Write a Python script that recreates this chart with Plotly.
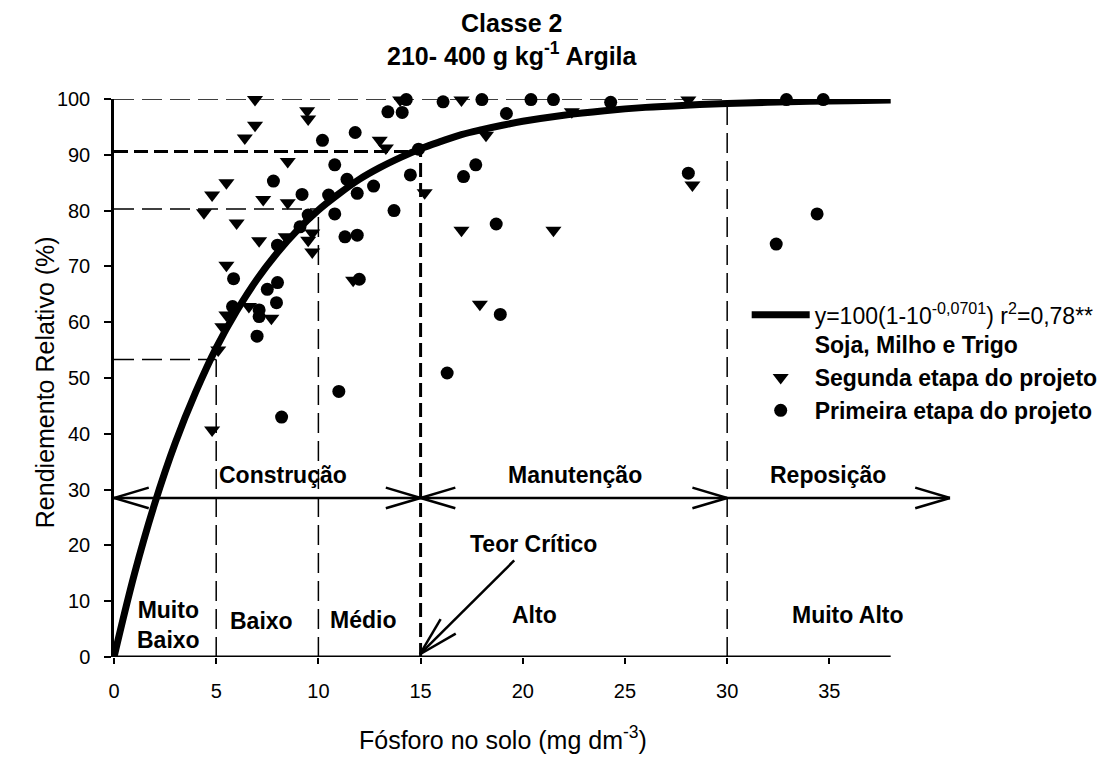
import plotly.graph_objects as go

# ---------------- data ----------------
seg_x = [6.9, 6.9, 6.4, 9.45, 9.5, 13.0, 13.3, 8.5, 5.5, 4.8, 7.3, 8.5, 4.4, 6.0, 7.1, 8.4, 9.7, 9.5,
         9.7, 5.5, 6.6, 7.7, 5.5, 5.3, 5.1, 4.8, 11.7, 14.0, 15.2, 17.0, 17.0, 18.2, 17.9, 21.5, 22.4,
         28.1, 28.3]
seg_y = [99.9, 95.3, 93.0, 97.9, 96.4, 92.6, 91.2, 88.8, 85.0, 82.8, 82.0, 81.4, 79.6, 77.8, 74.6, 75.3,
         76.0, 74.7, 72.6, 70.2, 62.8, 60.7, 61.3, 59.2, 55.0, 40.7, 67.5, 99.8, 83.2, 99.8, 76.5, 93.5,
         63.2, 76.5, 97.7, 99.8, 84.6]

prim_x = [14.3, 13.4, 14.1, 10.2, 11.8, 10.8, 7.8, 11.4, 9.2, 10.5, 11.9, 12.7, 14.5, 14.9, 9.5, 10.8,
          13.7, 9.1, 8.0, 11.3, 11.9, 12.0, 5.85, 8.0, 7.5, 7.95, 5.8, 7.1, 7.1, 7.0, 8.2, 11.0, 16.3,
          17.1, 17.7, 16.1, 18.0, 20.4, 21.5, 24.3, 19.2, 18.7, 18.9, 28.1, 32.9, 34.7, 34.4, 32.4]
prim_y = [99.9, 97.7, 97.6, 92.6, 94.0, 88.2, 85.3, 85.6, 82.9, 82.8, 83.1, 84.4, 86.4, 91.0, 79.2, 79.4,
          80.0, 77.1, 73.8, 75.3, 75.6, 67.7, 67.8, 67.1, 65.9, 63.5, 62.8, 62.2, 61.0, 57.5, 43.0, 47.6,
          50.9, 86.1, 88.2, 99.5, 99.9, 99.9, 99.9, 99.4, 97.4, 77.6, 61.4, 86.7, 99.9, 99.9, 79.4, 74.0]

fit_x = [0, 1, 2, 3, 4, 5, 6, 7, 8, 9, 10, 11, 12, 13, 14, 15, 16, 17, 18, 19, 20, 22, 24, 26, 28, 30,
         33, 36, 38]
fit_y = [0, 14.9, 27.6, 38.4, 47.5, 55.4, 62.0, 67.7, 72.5, 76.6, 80.1, 83.0, 85.6, 87.7, 89.5, 91.1,
         92.4, 93.6, 94.5, 95.3, 96.0, 97.1, 97.9, 98.5, 98.9, 99.2, 99.5, 99.7, 99.8]

class_limits = [5, 10, 15, 30]          # P limits between classes
class_levels = [53.3, 80.3, 90.6, 100]  # relative yield at those limits
x_ticks = [0, 5, 10, 15, 20, 25, 30, 35]
y_ticks = [0, 10, 20, 30, 40, 50, 60, 70, 80, 90, 100]
x_axis_end = 38
arrow_level = 28.5
arrow_end = 40.9

FONT = "Liberation Sans, Arial, sans-serif"

fig = go.Figure()

fig.add_trace(go.Scatter(
    x=fit_x, y=fit_y, mode="lines", line=dict(color="black", width=7, shape="spline"),
    name="y=100(1-10<sup>-0,0701</sup>) r<sup>2</sup>=0,78**<br><b>Soja, Milho e Trigo</b>",
    cliponaxis=False))
fig.add_trace(go.Scatter(
    x=seg_x, y=seg_y, mode="markers",
    marker=dict(symbol="triangle-down", size=14, color="black"),
    name="<b>Segunda etapa do projeto</b>", cliponaxis=False))
fig.add_trace(go.Scatter(
    x=prim_x, y=prim_y, mode="markers",
    marker=dict(symbol="circle", size=13, color="black"),
    name="<b>Primeira etapa do projeto</b>", cliponaxis=False))

shapes = []


def seg(x0, y0, x1, y1, width=2.5, dash="solid"):
    shapes.append(dict(type="line", xref="x", yref="y", x0=x0, y0=y0, x1=x1, y1=y1,
                       line=dict(color="black", width=width, dash=dash), layer="below"))


thin = "20px,8px"
thick = "14px,6px"
# class reference lines
for lim, lev in zip(class_limits, class_levels):
    crit = lim == 15
    w = 3 if crit else 1.5
    d = thick if crit else thin
    seg(lim, 0, lim, lev, w, d)
    seg(0, lev, lim, lev, w, d)

# x axis baseline
seg(0, 0, x_axis_end, 0, 3)

# horizontal arrow line with heads
seg(0, arrow_level, arrow_end, arrow_level, 2.5)
hx, hy = 1.7, 1.85
for tip in [15, 30, arrow_end]:   # right-pointing heads
    seg(tip - hx, arrow_level + hy, tip, arrow_level, 2.5)
    seg(tip - hx, arrow_level - hy, tip, arrow_level, 2.5)
for tip in [0, 15]:               # left-pointing heads
    seg(tip + hx, arrow_level + hy, tip, arrow_level, 2.5)
    seg(tip + hx, arrow_level - hy, tip, arrow_level, 2.5)

# Teor Crítico arrow
seg(19.58, 17.3, 14.97, 0.5, 2.5)
seg(15.98, 6.8, 14.97, 0.5, 2.5)
seg(16.72, 4.2, 14.97, 0.5, 2.5)

annotations = []


def label(x, y, text, size=23):
    annotations.append(dict(x=x, y=y, xref="x", yref="y", text=f"<b>{text}</b>", showarrow=False,
                            font=dict(family=FONT, size=size, color="black"),
                            xanchor="center", yanchor="middle"))


label(8.25, 32.6, "Construção")
label(22.56, 32.6, "Manutenção")
label(34.95, 32.6, "Reposição")
label(20.5, 20.2, "Teor Crítico")
label(2.65, 5.8, "Muito<br>Baixo")
label(7.2, 6.5, "Baixo")
label(12.2, 6.6, "Médio")
label(20.56, 7.5, "Alto")
label(35.9, 7.5, "Muito Alto")

# title
annotations.append(dict(x=0.476, y=1.107, xref="paper", yref="paper", showarrow=False,
                        text="<b>Classe 2<br>210- 400 g kg<sup>-1</sup> Argila</b>",
                        font=dict(family=FONT, size=25, color="black"),
                        xanchor="center", yanchor="middle"))
# axis titles
annotations.append(dict(x=-0.082, y=0.493, xref="paper", yref="paper", showarrow=False,
                        text="Rendiemento Relativo (%)", textangle=-90,
                        font=dict(family=FONT, size=25, color="black"),
                        xanchor="center", yanchor="middle"))
annotations.append(dict(x=0.464, y=-0.146, xref="paper", yref="paper", showarrow=False,
                        text="Fósforo no solo (mg dm<sup>-3</sup>)",
                        font=dict(family=FONT, size=25, color="black"),
                        xanchor="center", yanchor="middle"))

fig.update_layout(
    width=1109, height=756, autosize=False,
    margin=dict(l=106, r=165, t=91, b=107),
    paper_bgcolor="white", plot_bgcolor="white",
    font=dict(family=FONT, color="black"),
    shapes=shapes, annotations=annotations,
    showlegend=True,
    legend=dict(x=0.755, y=0.652, xanchor="left", yanchor="top", bgcolor="rgba(0,0,0,0)",
                font=dict(family=FONT, size=23, color="black"), itemwidth=58, valign="top",
                tracegroupgap=0),
)
fig.update_xaxes(range=[0, 41], tickvals=x_ticks, ticks="outside", ticklen=6, tickwidth=2,
                 tickcolor="black", showline=False, showgrid=False, zeroline=False,
                 tickfont=dict(family=FONT, size=20, color="black"), ticklabelstandoff=10)
fig.update_yaxes(range=[0, 100], tickvals=y_ticks, ticks="outside", ticklen=7, tickwidth=2,
                 tickcolor="black", showline=True, linecolor="black", linewidth=2.5,
                 showgrid=False, zeroline=False,
                 tickfont=dict(family=FONT, size=20, color="black"), ticklabelstandoff=10)

fig.write_html("out.html")
